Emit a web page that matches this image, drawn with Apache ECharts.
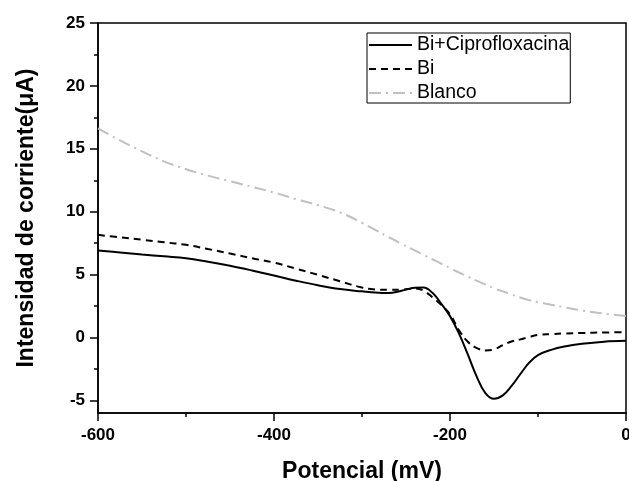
<!DOCTYPE html>
<html>
<head>
<meta charset="utf-8">
<script src="https://cdn.jsdelivr.net/npm/echarts@6/dist/echarts.min.js"></script>
<style>
html,body{margin:0;padding:0;background:#fff;}
#chart{width:629px;height:481px;}
</style>
</head>
<body>
<div id="chart"></div>
<script>
// Potential (mV)
const potential = [-600,-575,-550,-525,-500,-475,-450,-425,-400,-375,-350,-325,-300,-285,-270,-255,-240,-230,-220,-210,-200,-190,-180,-170,-160,-150,-140,-130,-120,-110,-100,-85,-70,-50,-25,0];
// Current (uA)
const biCipro = [6.91,6.76,6.6,6.45,6.30,6.02,5.70,5.33,4.93,4.52,4.15,3.85,3.67,3.57,3.53,3.72,3.95,3.97,3.55,2.70,1.70,0.35,-1.30,-3.05,-4.40,-4.87,-4.60,-3.85,-2.90,-2.00,-1.40,-0.98,-0.72,-0.50,-0.33,-0.26];
const bi = [8.16,7.96,7.77,7.57,7.37,7.03,6.68,6.30,5.95,5.47,4.98,4.47,3.97,3.82,3.79,3.80,3.90,3.72,3.20,2.60,1.85,0.60,-0.32,-0.82,-1.03,-0.95,-0.60,-0.32,-0.15,0.05,0.20,0.27,0.32,0.36,0.40,0.42];
const blanco = [16.63,15.67,14.8,14.0,13.38,12.87,12.42,11.98,11.52,11.0,10.52,9.95,9.12,8.55,7.99,7.44,6.92,6.57,6.22,5.87,5.53,5.17,4.85,4.52,4.22,3.92,3.67,3.42,3.18,2.97,2.82,2.6,2.4,2.15,1.9,1.7];
const seriesNames = ['Bi+Ciprofloxacina','Bi','Blanco'];
const yMajorTicks = [-5,0,5,10,15,20,25];
const yMinorTicks = [-2.5,2.5,7.5,12.5,17.5,22.5];
const xTitle = 'Potencial (mV)';
const yTitle = 'Intensidad de corriente(μA)';

const pairs = ys => potential.map((x, i) => [x, ys[i]]);
const FONT = '"Liberation Sans", Arial, sans-serif';
const black = {color: '#000', width: 1.5};

const chart = echarts.init(document.getElementById('chart'), null, {renderer: 'canvas'});
chart.setOption({
  animation: false,
  backgroundColor: '#fff',
  grid: {
    left: 98, right: 3, top: 23, bottom: 68, containLabel: false, outerBoundsMode: 'none',
    show: true, borderColor: '#000', borderWidth: 1.5
  },
  legend: {
    data: seriesNames,
    orient: 'vertical',
    left: 367, top: 33,
    itemWidth: 43, itemHeight: 14, itemGap: 4,
    padding: [2, 1, 0, 1],
    borderColor: '#000', borderWidth: 1,
    backgroundColor: '#fff',
    itemStyle: {color: 'rgba(0,0,0,0)', borderWidth: 0, opacity: 0},
    textStyle: {fontFamily: FONT, fontSize: 19.5, lineHeight: 19, color: '#000'}
  },
  xAxis: {
    type: 'value', min: -600, max: 0, interval: 200,
    name: xTitle, nameLocation: 'middle', nameGap: 47,
    nameTextStyle: {fontFamily: FONT, fontWeight: 'bold', fontSize: 23, color: '#000'},
    axisLine: {show: true, onZero: false, lineStyle: black},
    axisTick: {show: true, inside: false, length: 8, lineStyle: black},
    minorTick: {show: true, splitNumber: 2, length: 4, lineStyle: black},
    axisLabel: {fontFamily: FONT, fontWeight: 'bold', fontSize: 17, color: '#000', margin: 14},
    splitLine: {show: false}
  },
  yAxis: [{
    type: 'value', min: -6, max: 25, position: 'left',
    name: yTitle, nameLocation: 'middle', nameGap: 60,
    nameTextStyle: {fontFamily: FONT, fontWeight: 'bold', fontSize: 23, color: '#000'},
    axisLine: {show: true, onZero: false, lineStyle: black},
    axisTick: {show: true, inside: false, length: 8, customValues: yMajorTicks, lineStyle: black},
    axisLabel: {fontFamily: FONT, fontWeight: 'bold', fontSize: 17, color: '#000', margin: 13, customValues: yMajorTicks},
    splitLine: {show: false}
  }, {
    type: 'value', min: -6, max: 25, position: 'left', offset: 0,
    axisLine: {show: false, onZero: false},
    axisTick: {show: true, inside: false, length: 4, customValues: yMinorTicks, lineStyle: black},
    axisLabel: {show: false, customValues: yMinorTicks},
    splitLine: {show: false}
  }],
  series: [{
    name: seriesNames[0], type: 'line', data: pairs(biCipro), smooth: 0.4,
    symbol: 'none', showSymbol: false,
    lineStyle: {color: '#000', width: 2, type: 'solid'},
    itemStyle: {color: '#000'}, z: 4
  }, {
    name: seriesNames[1], type: 'line', data: pairs(bi), smooth: 0.4,
    symbol: 'none', showSymbol: false,
    lineStyle: {color: '#000', width: 2, type: [7, 5]},
    itemStyle: {color: '#000'}, z: 3
  }, {
    name: seriesNames[2], type: 'line', data: pairs(blanco), smooth: 0.4,
    symbol: 'none', showSymbol: false,
    lineStyle: {color: '#c0c0c0', width: 2, type: [12, 5, 2, 5]},
    itemStyle: {color: '#c0c0c0'}, z: 2
  }]
});
</script>
</body>
</html>
